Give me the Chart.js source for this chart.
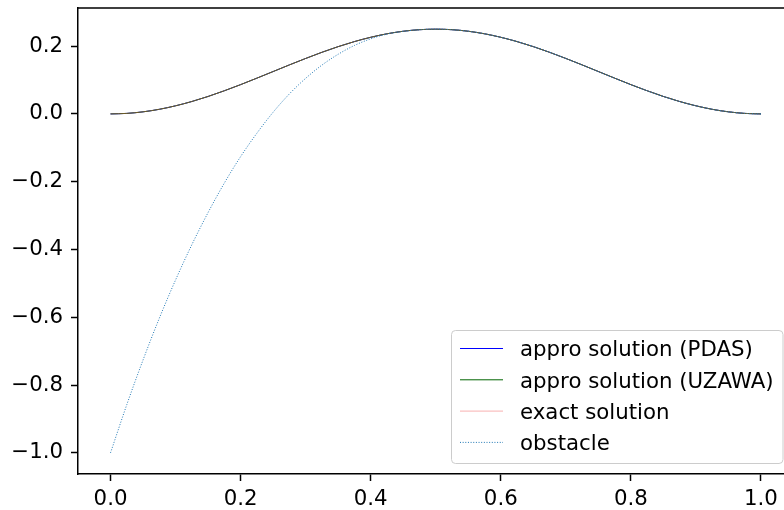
<!DOCTYPE html>
<html>
<head>
<meta charset="utf-8">
<script src="https://cdn.jsdelivr.net/npm/chart.js@4.4.1/dist/chart.umd.min.js"></script>
<style>
  html, body { margin: 0; padding: 0; background: #ffffff; overflow: hidden; width: 784px; height: 510px; }
  #wrap { width: 810px; height: 510px; }
</style>
</head>
<body>
<div id="wrap"><canvas id="c" width="810" height="510"></canvas></div>
<script>
// ---- data ----
const xValues = [0, 0.025, 0.05, 0.075, 0.1, 0.125, 0.15, 0.175, 0.2, 0.225, 0.25, 0.275, 0.3, 0.325, 0.35, 0.375, 0.4, 0.425, 0.45, 0.475, 0.5,
                 0.525, 0.55, 0.575, 0.6, 0.625, 0.65, 0.675, 0.7, 0.725, 0.75, 0.775, 0.8, 0.825, 0.85, 0.875, 0.9, 0.925, 0.95, 0.975, 1.0];
const pdasValues = [0, 0.0015, 0.0061, 0.0136, 0.0239, 0.0366, 0.0515, 0.0683, 0.0864, 0.1055, 0.125, 0.1446, 0.1636, 0.1818, 0.1985, 0.2134, 0.2261, 0.2364, 0.2439, 0.2485, 0.25,
                    0.2485, 0.2439, 0.2364, 0.2261, 0.2134, 0.1985, 0.1818, 0.1636, 0.1446, 0.125, 0.1055, 0.0864, 0.0683, 0.0515, 0.0366, 0.0239, 0.0136, 0.0061, 0.0015, 0];
const uzawaValues = [0, 0.0015, 0.0061, 0.0136, 0.0239, 0.0366, 0.0515, 0.0683, 0.0864, 0.1055, 0.125, 0.1446, 0.1636, 0.1818, 0.1985, 0.2134, 0.2261, 0.2364, 0.2439, 0.2485, 0.25,
                     0.2485, 0.2439, 0.2364, 0.2261, 0.2134, 0.1985, 0.1818, 0.1636, 0.1446, 0.125, 0.1055, 0.0864, 0.0683, 0.0515, 0.0366, 0.0239, 0.0136, 0.0061, 0.0015, 0];
const exactValues = [0, 0.0015, 0.0061, 0.0136, 0.0239, 0.0366, 0.0515, 0.0683, 0.0864, 0.1055, 0.125, 0.1446, 0.1636, 0.1818, 0.1985, 0.2134, 0.2261, 0.2364, 0.2439, 0.2485, 0.25,
                     0.2485, 0.2439, 0.2364, 0.2261, 0.2134, 0.1985, 0.1818, 0.1636, 0.1446, 0.125, 0.1055, 0.0864, 0.0683, 0.0515, 0.0366, 0.0239, 0.0136, 0.0061, 0.0015, 0];
const obstacleValues = [-1.0, -0.858, -0.726, -0.603, -0.490, -0.386, -0.291, -0.204, -0.126, -0.057, 0.005, 0.059, 0.105, 0.144, 0.176, 0.202, 0.2215, 0.2355, 0.2435, 0.2484, 0.25,
                        0.2485, 0.2439, 0.2364, 0.2261, 0.2134, 0.1985, 0.1818, 0.1636, 0.1446, 0.125, 0.1055, 0.0864, 0.0683, 0.0515, 0.0366, 0.0239, 0.0136, 0.0061, 0.0015, 0];
const seriesLabels = ['appro solution (PDAS)', 'appro solution (UZAWA)', 'exact solution', 'obstacle'];
const xTicks = [0.0, 0.2, 0.4, 0.6, 0.8, 1.0];
const yTicks = [-1.0, -0.8, -0.6, -0.4, -0.2, 0.0, 0.2];

const FONT = 'DejaVu Sans';
const FS = 21.3;

function pts(ys) { return xValues.map((x, i) => ({ x: x, y: ys[i] })); }
function fmt(v) { const s = Math.abs(v).toFixed(1); return (v < -1e-9 ? '\u2212' : '') + s; }

const frameAndLegend = {
  id: 'frameAndLegend',
  afterDraw(chart) {
    const ctx = chart.ctx;
    const a = chart.chartArea;
    ctx.save();
    // top and right spines
    ctx.strokeStyle = '#000000';
    ctx.lineWidth = 1.5;
    ctx.beginPath();
    ctx.moveTo(a.left, a.top);
    ctx.lineTo(a.right, a.top);
    ctx.lineTo(a.right, a.bottom);
    ctx.stroke();

    // legend (lower right, inside axes)
    const right = a.right - 10.5, bottom = a.bottom - 10.5;
    const left = right - 331.5, top = bottom - 133;
    const r = 4;
    ctx.beginPath();
    ctx.moveTo(left + r, top);
    ctx.lineTo(right - r, top);
    ctx.arcTo(right, top, right, top + r, r);
    ctx.lineTo(right, bottom - r);
    ctx.arcTo(right, bottom, right - r, bottom, r);
    ctx.lineTo(left + r, bottom);
    ctx.arcTo(left, bottom, left, bottom - r, r);
    ctx.lineTo(left, top + r);
    ctx.arcTo(left, top, left + r, top, r);
    ctx.closePath();
    ctx.fillStyle = 'rgba(255,255,255,0.8)';
    ctx.fill();
    ctx.strokeStyle = '#cccccc';
    ctx.lineWidth = 1;
    ctx.stroke();

    ctx.font = FS + 'px "' + FONT + '"';
    ctx.textBaseline = 'alphabetic';
    ctx.textAlign = 'left';
    chart.data.datasets.forEach((ds, i) => {
      const cy = top + 18 + i * 31.3;
      ctx.strokeStyle = ds.borderColor;
      ctx.lineWidth = 1;
      ctx.setLineDash(ds.borderDash || []);
      ctx.beginPath();
      ctx.moveTo(left + 8.5, cy);
      ctx.lineTo(left + 51.5, cy);
      ctx.stroke();
      ctx.setLineDash([]);
      ctx.fillStyle = '#000000';
      ctx.fillText(ds.label, left + 68.5, cy + 7.7);
    });
    ctx.restore();
  }
};

const common = { showLine: true, pointRadius: 0, pointHoverRadius: 0, fill: false, tension: 0, cubicInterpolationMode: 'monotone' };

new Chart(document.getElementById('c'), {
  type: 'scatter',
  data: {
    datasets: [
      Object.assign({ label: seriesLabels[0], data: pts(pdasValues), borderColor: '#0000ff', borderWidth: 1, order: 3 }, common),
      Object.assign({ label: seriesLabels[1], data: pts(uzawaValues), borderColor: '#006400', borderWidth: 1, order: 2 }, common),
      Object.assign({ label: seriesLabels[2], data: pts(exactValues), borderColor: 'rgba(240,80,80,0.45)', borderWidth: 1, order: 1 }, common),
      Object.assign({ label: seriesLabels[3], data: pts(obstacleValues), borderColor: '#1f77b4', borderWidth: 1, borderDash: [1, 1.65], order: 0 }, common)
    ]
  },
  options: {
    responsive: false,
    animation: false,
    events: [],
    layout: { padding: { left: 0, top: 8, right: 16.5, bottom: 0 } },
    plugins: { legend: { display: false }, tooltip: { enabled: false }, title: { display: false } },
    scales: {
      x: {
        type: 'linear',
        min: -0.05, max: 1.05,
        afterBuildTicks: (s) => { s.ticks = xTicks.map(v => ({ value: v })); },
        afterFit: (s) => { s.height = 36; s.paddingLeft = 0; s.paddingRight = 0; },
        grid: { display: true, drawOnChartArea: false, drawTicks: true, tickLength: 7, tickWidth: 1.5, tickColor: '#000000' },
        border: { display: true, color: '#000000', width: 1.5 },
        ticks: { color: '#000000', font: { family: FONT, size: FS }, padding: 6, maxRotation: 0, autoSkip: false,
                 callback: (v) => fmt(v) }
      },
      y: {
        type: 'linear',
        min: -1.0625, max: 0.3125,
        afterBuildTicks: (s) => { s.ticks = yTicks.map(v => ({ value: v })); },
        afterFit: (s) => { s.width = 78; s.paddingTop = 0; s.paddingBottom = 0; },
        grid: { display: true, drawOnChartArea: false, drawTicks: true, tickLength: 7, tickWidth: 1.5, tickColor: '#000000' },
        border: { display: true, color: '#000000', width: 1.5 },
        ticks: { color: '#000000', font: { family: FONT, size: FS }, padding: 8, autoSkip: false,
                 callback: (v) => fmt(v) }
      }
    }
  },
  plugins: [frameAndLegend]
});
</script>
</body>
</html>
